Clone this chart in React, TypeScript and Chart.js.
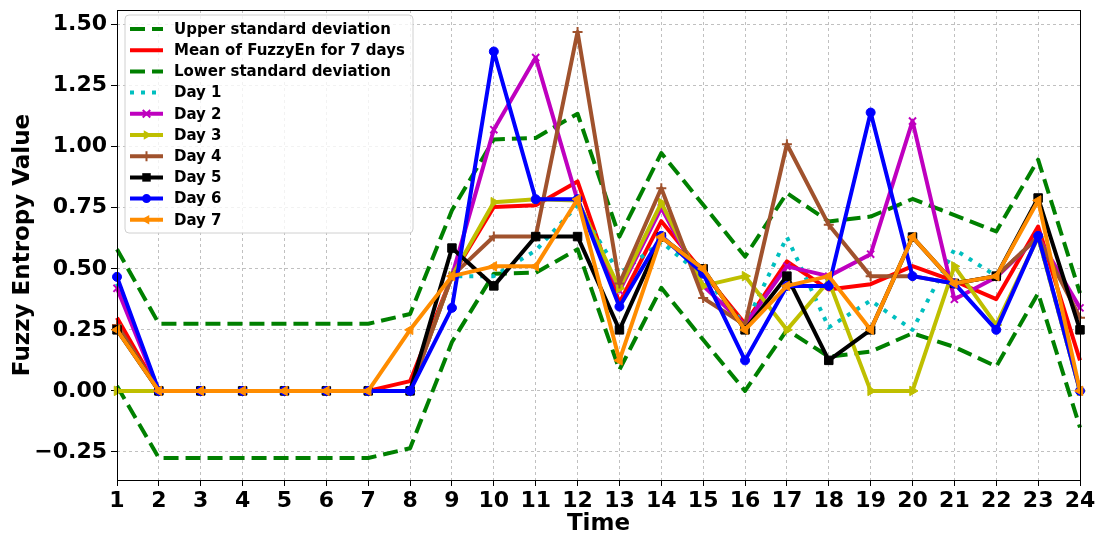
import React, { useEffect, useRef } from 'react';
import { Chart, registerables } from 'chart.js';

Chart.register(...registerables);

// Hour of the day (x axis categories)
const hours = ['1', '2', '3', '4', '5', '6', '7', '8', '9', '10', '11', '12', '13', '14', '15', '16', '17', '18', '19', '20', '21', '22', '23', '24'];

// Band of one standard deviation around the 7-day mean
const upperStd = [0.58, 0.275, 0.275, 0.275, 0.275, 0.275, 0.275, 0.315, 0.74, 1.03, 1.036, 1.135, 0.632, 0.974, 0.762, 0.55, 0.81, 0.694, 0.714, 0.786, 0.72, 0.653, 0.947, 0.40];
const meanFuzzyEn = [0.30, 0, 0, 0, 0, 0, 0, 0.04, 0.47, 0.753, 0.76, 0.858, 0.36, 0.695, 0.485, 0.275, 0.53, 0.415, 0.437, 0.511, 0.45, 0.376, 0.673, 0.125];
const lowerStd = [0.02, -0.275, -0.275, -0.275, -0.275, -0.275, -0.275, -0.235, 0.20, 0.48, 0.484, 0.58, 0.086, 0.422, 0.209, 0.0, 0.25, 0.14, 0.161, 0.236, 0.18, 0.10, 0.40, -0.15];

// Fuzzy entropy per day
const day1 = [0.44, 0, 0, 0, 0, 0, 0, 0, 0.47, 0.47, 0.575, 0.76, 0.48, 0.61, 0.47, 0.27, 0.63, 0.26, 0.37, 0.25, 0.58, 0.47, 0.63, 0];
const day2 = [0.42, 0, 0, 0, 0, 0, 0, 0, 0.47, 1.07, 1.365, 0.78, 0.41, 0.75, 0.43, 0.27, 0.51, 0.47, 0.56, 1.105, 0.375, 0.465, 0.63, 0.34];
const day3 = [0, 0, 0, 0, 0, 0, 0, 0, 0.47, 0.773, 0.785, 0.78, 0.42, 0.77, 0.43, 0.47, 0.25, 0.45, 0, 0, 0.51, 0.27, 0.63, 0];
const day4 = [0.27, 0, 0, 0, 0, 0, 0, 0, 0.47, 0.632, 0.632, 1.47, 0.44, 0.83, 0.38, 0.27, 1.01, 0.68, 0.47, 0.47, 0.44, 0.47, 0.63, 0.30];
const day5 = [0.25, 0, 0, 0, 0, 0, 0, 0, 0.585, 0.43, 0.632, 0.632, 0.25, 0.63, 0.50, 0.25, 0.47, 0.125, 0.25, 0.63, 0.44, 0.47, 0.79, 0.25];
const day6 = [0.467, 0, 0, 0, 0, 0, 0, 0, 0.34, 1.39, 0.785, 0.785, 0.345, 0.635, 0.48, 0.125, 0.43, 0.43, 1.14, 0.47, 0.44, 0.25, 0.635, 0];
const day7 = [0.25, 0, 0, 0, 0, 0, 0, 0.25, 0.47, 0.51, 0.51, 0.785, 0.125, 0.63, 0.50, 0.25, 0.43, 0.47, 0.25, 0.63, 0.44, 0.47, 0.78, 0];

const yTickValues = [-0.25, 0, 0.25, 0.5, 0.75, 1.0, 1.25, 1.5];

const FONT = '"DejaVu Sans", sans-serif';

type Series = {
  label: string;
  data: number[];
  color: string;
  dash: number[];
  width: number;
  marker: string | false;
  radius: number;
  rotation: number;
};

const series: Series[] = [
  { label: 'Upper standard deviation', data: upperStd, color: '#008000', dash: [15, 7], width: 4, marker: false, radius: 0, rotation: 0 },
  { label: 'Mean of FuzzyEn for 7 days', data: meanFuzzyEn, color: '#ff0000', dash: [], width: 4, marker: false, radius: 0, rotation: 0 },
  { label: 'Lower standard deviation', data: lowerStd, color: '#008000', dash: [15, 7], width: 4, marker: false, radius: 0, rotation: 0 },
  { label: 'Day 1', data: day1, color: '#00bfbf', dash: [4, 7], width: 4, marker: false, radius: 0, rotation: 0 },
  { label: 'Day 2', data: day2, color: '#bf00bf', dash: [], width: 4, marker: 'crossRot', radius: 5, rotation: 0 },
  { label: 'Day 3', data: day3, color: '#bfbf00', dash: [], width: 4, marker: 'triangle', radius: 5.5, rotation: 90 },
  { label: 'Day 4', data: day4, color: '#a0522d', dash: [], width: 4, marker: 'cross', radius: 5, rotation: 0 },
  { label: 'Day 5', data: day5, color: '#000000', dash: [], width: 4, marker: 'rect', radius: 6, rotation: 0 },
  { label: 'Day 6', data: day6, color: '#0000ff', dash: [], width: 4, marker: 'circle', radius: 4.5, rotation: 0 },
  { label: 'Day 7', data: day7, color: '#ff8c00', dash: [], width: 4, marker: 'triangle', radius: 5.5, rotation: -90 },
];

function drawMarker(ctx: CanvasRenderingContext2D, s: Series, x: number, y: number) {
  if (!s.marker) return;
  const r = s.radius;
  ctx.save();
  ctx.translate(x, y);
  ctx.rotate((s.rotation * Math.PI) / 180);
  ctx.fillStyle = s.color;
  ctx.strokeStyle = s.color;
  ctx.setLineDash([]);
  ctx.lineWidth = 2;
  ctx.beginPath();
  if (s.marker === 'circle') {
    ctx.arc(0, 0, r, 0, Math.PI * 2);
    ctx.fill();
  } else if (s.marker === 'rect') {
    const h = Math.SQRT1_2 * r;
    ctx.rect(-h, -h, 2 * h, 2 * h);
    ctx.fill();
  } else if (s.marker === 'triangle') {
    ctx.moveTo(0, -r);
    ctx.lineTo(r * 0.866, r * 0.5);
    ctx.lineTo(-r * 0.866, r * 0.5);
    ctx.closePath();
    ctx.fill();
  } else if (s.marker === 'cross') {
    ctx.moveTo(0, -r); ctx.lineTo(0, r);
    ctx.moveTo(-r, 0); ctx.lineTo(r, 0);
    ctx.stroke();
  } else if (s.marker === 'crossRot') {
    const d = r * 0.75;
    ctx.moveTo(-d, -d); ctx.lineTo(d, d);
    ctx.moveTo(d, -d); ctx.lineTo(-d, d);
    ctx.stroke();
  }
  ctx.restore();
}

// Black frame around the plotting area
const framePlugin = {
  id: 'axesFrame',
  afterDatasetsDraw(chart: any) {
    const { ctx, chartArea: a } = chart;
    ctx.save();
    ctx.strokeStyle = '#000000';
    ctx.lineWidth = 1;
    ctx.setLineDash([]);
    ctx.strokeRect(Math.round(a.left) + 0.5, Math.round(a.top) + 0.5, Math.round(a.right - a.left), Math.round(a.bottom - a.top));
    ctx.restore();
  },
};

// Legend box in the upper-left corner of the plot
const legendPlugin = {
  id: 'boxLegend',
  afterDraw(chart: any) {
    const { ctx, chartArea: a } = chart;
    const x0 = a.left + 8;
    const y0 = a.top + 5;
    const w = 288;
    const h = 218;
    const rad = 4;
    ctx.save();
    ctx.beginPath();
    ctx.moveTo(x0 + rad, y0);
    ctx.lineTo(x0 + w - rad, y0);
    ctx.quadraticCurveTo(x0 + w, y0, x0 + w, y0 + rad);
    ctx.lineTo(x0 + w, y0 + h - rad);
    ctx.quadraticCurveTo(x0 + w, y0 + h, x0 + w - rad, y0 + h);
    ctx.lineTo(x0 + rad, y0 + h);
    ctx.quadraticCurveTo(x0, y0 + h, x0, y0 + h - rad);
    ctx.lineTo(x0, y0 + rad);
    ctx.quadraticCurveTo(x0, y0, x0 + rad, y0);
    ctx.closePath();
    ctx.fillStyle = 'rgba(255,255,255,0.8)';
    ctx.fill();
    ctx.strokeStyle = '#d0d0d0';
    ctx.lineWidth = 1;
    ctx.stroke();

    series.forEach((s, i) => {
      const cy = y0 + 14 + i * 21.2;
      const lx0 = x0 + 5;
      const lx1 = x0 + 38;
      ctx.beginPath();
      ctx.setLineDash(s.dash);
      ctx.lineDashOffset = 0;
      ctx.strokeStyle = s.color;
      ctx.lineWidth = s.width;
      ctx.lineCap = 'butt';
      ctx.moveTo(lx0, cy);
      ctx.lineTo(lx1, cy);
      ctx.stroke();
      ctx.setLineDash([]);
      drawMarker(ctx, s, (lx0 + lx1) / 2, cy);
      ctx.fillStyle = '#000000';
      ctx.font = `bold 15px ${FONT}`;
      ctx.textBaseline = 'middle';
      ctx.textAlign = 'left';
      ctx.fillText(s.label, x0 + 49, cy + 1);
    });
    ctx.restore();
  },
};

export default function App() {
  const canvasRef = useRef<HTMLCanvasElement | null>(null);

  useEffect(() => {
    if (!canvasRef.current) return;
    const datasets = series.map((s, i) => ({
      label: s.label,
      data: s.data,
      borderColor: s.color,
      backgroundColor: s.color,
      borderWidth: s.width,
      borderDash: s.dash,
      borderCapStyle: 'butt' as const,
      borderJoinStyle: 'round' as const,
      tension: 0,
      fill: false,
      pointStyle: s.marker || 'circle',
      pointRadius: s.radius,
      pointRotation: s.rotation,
      pointBackgroundColor: s.color,
      pointBorderColor: s.color,
      pointBorderWidth: s.marker === 'cross' || s.marker === 'crossRot' ? 2 : 1,
      order: series.length - i,
    }));

    const chart = new Chart(canvasRef.current, {
      type: 'line',
      data: { labels: hours, datasets },
      plugins: [framePlugin, legendPlugin],
      options: {
        animation: false,
        responsive: true,
        maintainAspectRatio: false,
        layout: { padding: { left: 0, right: 24, top: 10, bottom: 0 } },
        plugins: {
          legend: { display: false },
          tooltip: { enabled: false },
        },
        scales: {
          x: {
            type: 'category',
            offset: false,
            afterFit: (scale: any) => {
              scale.height = 55;
              scale.paddingLeft = 0;
              scale.paddingRight = 0;
            },
            grid: {
              color: '#b0b0b0',
              lineWidth: 0.8,
              tickLength: 6,
              tickColor: '#000000',
              tickWidth: 1,
            },
            border: { display: false, dash: [3, 3] },
            ticks: {
              autoSkip: false,
              maxRotation: 0,
              color: '#000000',
              padding: 2,
              font: { family: FONT, size: 22, weight: 'bold' },
            },
            title: {
              display: true,
              text: 'Time',
              color: '#000000',
              font: { family: FONT, size: 23, weight: 'bold', lineHeight: 0.95 },
              padding: { top: 0, bottom: 0 },
            },
          },
          y: {
            type: 'linear',
            min: -0.365,
            max: 1.56,
            afterFit: (scale: any) => {
              scale.width = 117;
              scale.paddingTop = 0;
              scale.paddingBottom = 0;
            },
            afterBuildTicks: (scale: any) => {
              scale.ticks = yTickValues.map((v) => ({ value: v }));
            },
            grid: {
              color: '#b0b0b0',
              lineWidth: 0.8,
              tickLength: 6,
              tickColor: '#000000',
              tickWidth: 1,
            },
            border: { display: false, dash: [3, 3] },
            ticks: {
              color: '#000000',
              padding: 4,
              font: { family: FONT, size: 22, weight: 'bold' },
              callback: (v: any) => Number(v).toFixed(2).replace('-', '\u2212'),
            },
            title: {
              display: true,
              text: 'Fuzzy Entropy Value',
              color: '#000000',
              font: { family: FONT, size: 23, weight: 'bold', lineHeight: 1.1 },
              padding: { top: 10, bottom: 0 },
            },
          },
        },
      },
    });
    return () => chart.destroy();
  }, []);

  return (
    <div style={{ position: 'fixed', left: 0, top: 0, width: 1104, height: 535, background: '#ffffff' }}>
      <canvas ref={canvasRef} />
    </div>
  );
}
